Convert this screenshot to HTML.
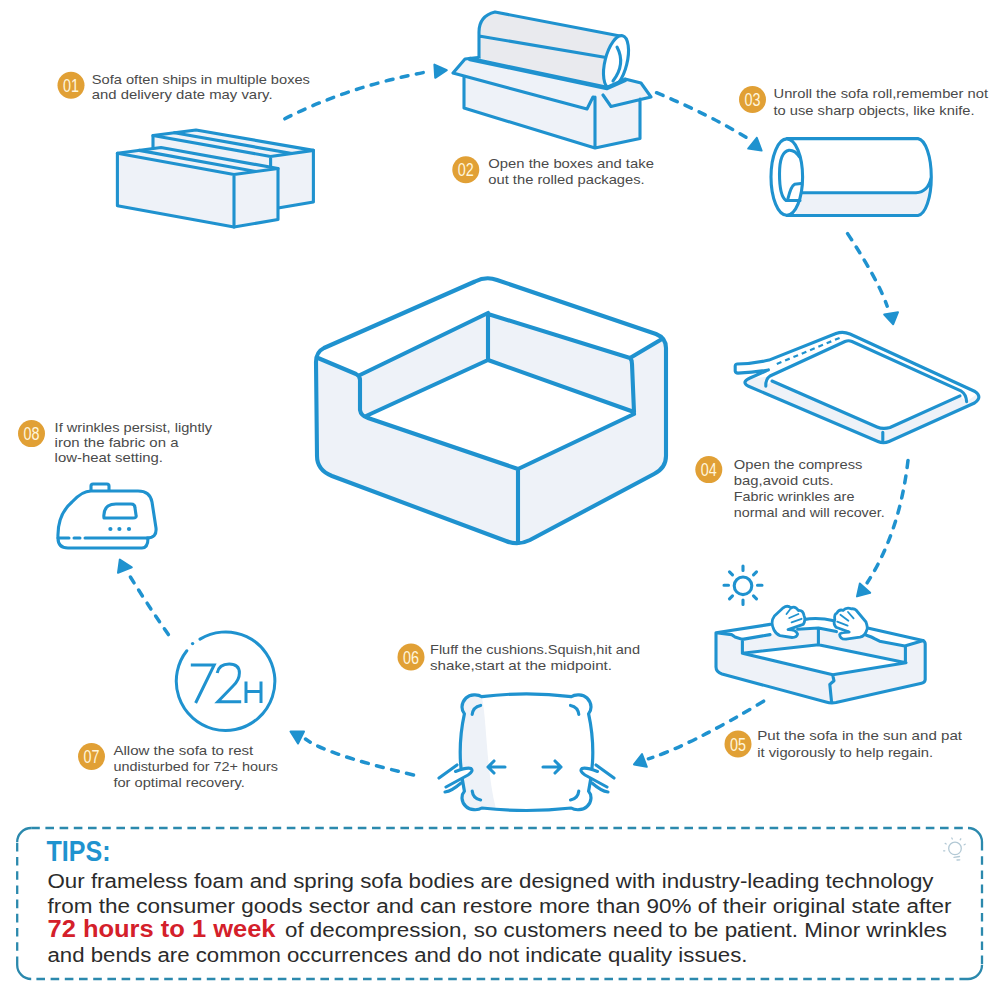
<!DOCTYPE html>
<html><head><meta charset="utf-8">
<style>
html,body{margin:0;padding:0;background:#fff;}
body{width:1000px;height:1000px;overflow:hidden;position:relative;}
svg{position:absolute;left:0;top:0;}
.ln{fill:none;stroke:#1f92cf;stroke-width:3.1;stroke-linejoin:round;stroke-linecap:round;}
.fg{fill:#eef2f8;}
.fr{fill:#e9eaee;}
.fw{fill:#fff;}
.ar{fill:none;stroke:#1f92cf;stroke-width:3.5;stroke-linecap:round;stroke-dasharray:7 8.5;}
.ah{fill:#1f92cf;stroke:#1f92cf;stroke-width:2;stroke-linejoin:round;}
.t{font-family:"Liberation Sans",sans-serif;font-size:13.5px;fill:#4a4a4a;}
.tp{font-family:"Liberation Sans",sans-serif;font-size:19.5px;fill:#2b2b2b;}
.bd{fill:#e1a035;}
.bt{font-family:"Liberation Sans",sans-serif;font-size:18px;fill:#fff6dd;}
</style></head><body>
<svg width="1000" height="1000" viewBox="0 0 1000 1000">
<!-- ===== STEP 01 boxes ===== -->
<g id="s01">
  <path class="fg" d="M153,149 L153,135.5 L196,130 L313.4,150.4 L313.4,202 L278,208 L160,160 Z"/>
  <path class="ln" d="M153,149 L153,135.5 L196,130 L313.4,150.4 L313.4,202 L278,208"/>
  <path class="ln" d="M153,135.5 L270.6,156.5 L313.4,150.4 M270.6,156.5 L270.6,170 M174.5,132.8 L292,153.5"/>
  <path class="fg ln" d="M117.4,153.3 L161,147.5 L278,168.5 L278,219.5 L234,227 L117.4,205.8 Z"/>
  <path class="ln" d="M117.4,153.3 L234,174.5 L278,168.5 M234,174.5 L234,227 M139.2,150.4 L256,171.5"/>
</g>
<!-- ===== STEP 02 box + roll ===== -->
<g id="s02">
  <path class="fr" d="M495,12 L620,36 L607,88 L486,65 Q479,64 479,57 L479,32 Q479,16 495,12 Z"/>
  <path class="ln" d="M495,12 L620,36 M486,65 L607,88 M479,36 L609,58 M495,12 Q479,16 479,32 L479,57 Q479,64 486,65"/>
  <ellipse class="fw ln" cx="616" cy="62" rx="11" ry="27" transform="rotate(14 616 62)"/>
  <path class="ln" d="M617,47 Q626,64 613,81"/>
  <path class="fg" d="M453,73 L465,59 L478,58 L607,88 L625,80 L641,83 L651,97 L611,106.5 L640,99 L640,138.6 L595,148 L464,108 L464,76 Z"/>
  <path class="ln" style="stroke-width:4.5" d="M470,59 L607,88 L625,80"/>
  <path class="ln" d="M453,73 L465,59 L478,57.5 M453,73 L587,109 L593,97 M464,76 L464,108 L595,148 L640,138.6 L640,99 M595,97 L595,148 M603,95 L611,106.5 L651,97 L641,83 L625,79"/>
</g>
<!-- ===== STEP 03 roll ===== -->
<g id="s03">
  <path class="fw" d="M787,138.6 L918,138.6 A14,38.5 0 0 1 918,215.5 L787,215.5 Z"/>
  <path class="fg" d="M802,192.7 L916,192.7 Q928,192 931,178 Q932,205 918,215.5 L795,215.5 Z"/>
  <path class="ln" d="M787,138.6 L918,138.6 A14,38.5 0 0 1 918,215.5 L787,215.5 M802,192.7 L916,192.7 Q928,192 931,178"/>
  <ellipse class="fw ln" cx="786.8" cy="177.1" rx="15.8" ry="38.2"/>
  <path class="ln" d="M799.5,157 Q795,150 789,150.3 Q779.5,152 779.5,174 Q779.5,196 786,200.5 L800,200.5 M788,198.5 Q791,186 794.5,184.3 L801,183.5"/>
</g>
<!-- ===== STEP 04 bag ===== -->
<g id="s04">
  <path class="fw" d="M768.4,369.9 L750,378 Q741,382 748,386 L878,441.5 Q883.4,444 889,441.5 L974.5,403 Q983,397 975,391.5 L850,334 Q843,331 836,333.5 L769,360.1 Q752,364 737,364 Q735,364 735.2,367 L735.2,371 Q735.5,373.1 738,373.1 Q755,372.5 768.4,369.9 Z"/>
  <path class="fg" d="M766,377 L750,378 Q741,382 748,386 L878,441.5 Q883.4,444 889,441.5 L974.5,403 Q980,399 977,394 L966.6,401.6 L960,395.8 L890,427.5 Q883,429.5 877,427 L772,381 Z"/>
  <path class="fw" d="M766,386 Q765.5,379 770,376 L845,341.5 Q848.5,340 852,341.5 L961.4,391.2 Q966,394 966.6,401.6 L960,395.8 L890,427.5 Q883,429.5 877,427 L772,381 Z"/>
  <path class="ln" d="M768.4,369.9 L750,378 Q741,382 748,386 L878,441.5 Q883.4,444 889,441.5 L974.5,403 Q983,397 975,391.5 L850,334 Q843,331 836,333.5 L769,360.1 Q752,364 737,364 Q735,364 735.2,367 L735.2,371 Q735.5,373.1 738,373.1 Q755,372.5 768.4,369.9"/>
  <path class="ln" d="M765.8,386.1 Q765.5,379 770,376 L845,341.5 Q848.5,340 852,341.5 L961.4,391.2 Q966,394 966.6,401.6 M772,381 L877,427 Q883,429.5 890,427.5 L960,395.8 M882.8,432.2 L882.8,440.6"/>
  <path class="ln" style="stroke-width:2.2;stroke-linecap:butt" stroke-dasharray="5 4" d="M776.8,364 L841.8,337"/>
</g>
<!-- ===== CENTRAL sofa ===== -->
<g id="sofa">
  <path class="fg" d="M316,362 Q316,352 324,348 L475,281.5 Q486,276 497,280 L656,334 Q666,338 666,348 L666,456 Q666,468 654,474 L530,540 Q518,546 506,541 L332,476 Q317,470 317,456 Z"/>
  <path class="fw" d="M318,358 L322,349 L475,281.5 Q486,276 497,280 L656,334 L661,339 L630,358 L488,314 L360,375 Z"/>
  <path class="fw" d="M366,416 L488,360 L634,413 L518,469 Z"/>
  <path class="ln" style="stroke-width:4.1" d="M316,362 Q316,352 324,348 L475,281.5 Q486,276 497,280 L656,334 Q666,338 666,348 L666,456 Q666,468 654,474 L530,540 Q518,546 506,541 L332,476 Q317,470 317,456 Z"/>
  <path class="ln" style="stroke-width:4.1" d="M318,358 L356,374 Q360,376 360,380 L360,410 Q361,416 368,418 L518,469 L634,414 M360,375 L488,313 L488,360 M488,314 L630,358 L662,339 M630,358 Q632,360 632,364 L634,412 M366,416 L488,360 L634,412 M518,469 L518,543"/>
</g>

<!-- ===== STEP 05 sofa in sun ===== -->
<g id="s05">
  <circle class="ln" cx="743" cy="585.8" r="8.8"/>
  <path class="ln" d="M743,566 L743,570.5 M743,600 L743,604.5 M724,585.3 L728.5,585.3 M757.5,585.3 L762,585.3 M729.5,571.8 L732.5,574.8 M753.5,595.8 L756.5,598.8 M756.5,571.8 L753.5,574.8 M732.5,595.8 L729.5,598.8"/>
  <path class="fg" d="M716,632.8 L770,624.4 L803.6,619.6 Q818,617 834,620.8 L867.6,628 L922.8,640.6 Q925.2,641.5 925.2,644 L925.2,679.6 Q925,682.5 921.6,683.2 L836,702.5 Q831,703.5 826,702 L722,674 Q716,672 716,667 Z"/>
  <path class="fw" d="M742.4,653.2 L818.4,644.8 L906,662.8 L832.8,674.8 Z"/>
  <path class="fw" d="M716,632.8 L770,624.4 L803.6,619.6 Q818,617 834,620.8 L867.6,628 L922.8,640.6 L904.8,646 L879.6,641.2 L866.4,635.2 L836.4,631.6 L818.4,628 L797.6,629.2 L770,634.6 L742.4,639.4 L735,637 L731.6,634.6 Z"/>
  <path class="ln" d="M716,632.8 L770,624.4 M867.6,628 L922.8,640.6 Q925.2,641.5 925.2,644 L925.2,679.6 Q925,682.5 921.6,683.2 L836,702.5 Q831,703.5 826,702 L722,674 Q716,672 716,667 L716,632.8 L731.6,634.6 Q734,636 735,637 L742.4,639.4 L742.4,653.2 M742.4,639.4 L770,634.6 M797.6,629.2 L818.4,628 L836.4,631.6 M866.4,635.2 Q872,637 875,638.8 L879.6,641.2 L904.8,646 L923.4,640.6 M818.4,628 L818.4,643.6 M905.4,646 L905.4,661.6 M742.4,653.2 L818.4,644.8 L906,662.8 L832.8,674.8 Z M832.8,675.4 L834,680.8 L829.8,684.4 L831.6,702.4 M803.6,619.6 Q818,617 834,620.8"/>
  <path class="fw ln" style="stroke-width:2.8" d="M774,630 Q770,622 774.4,616 L783.2,607.8 Q787.5,604.5 791,608 Q795,605.5 798.4,610.5 Q803,610 804,615.5 Q806,620 803.2,624.4 L788,629.6 Q796,629.5 797.6,634 Q797,637.5 792,637.5 L780,635.6 Q776,634 774,630 Z"/>
  <path class="ln" style="stroke-width:1.8" d="M786.5,614 L790,609.5 M789.2,618 L798.4,614 M791.6,622.4 L801.6,618.8"/>
  <path class="fw ln" style="stroke-width:2.8" d="M849.2,632 L836,627.2 Q833,624 834.8,620 Q834,614 836.8,613.2 Q839,609 843.2,610.4 Q846,607 851.6,608.8 Q854.5,608.5 856,610 L866,622 Q868,628 866.8,630 Q865,636 860,637.2 L846,639.2 Q840,639.5 839.6,634.5 Q840,632.5 849.2,632 Z"/>
  <path class="ln" style="stroke-width:1.8" d="M840.4,614.8 L848.4,620.8 M848,612 L853.6,618.4 M837.2,621.6 L847.6,625.6"/>
</g>
<!-- ===== STEP 06 pillow ===== -->
<g id="s06">
  <path class="fw" d="M481.8,696.7 Q526.5,691 571.2,696.7 C575,694 583,694 587,698 C592,703 592,710 588.6,713.8 Q597,752 588.6,791.2 C592,795 592,802 587,806.5 C583,810.5 575,810.5 571.2,808 Q526.5,813 481.8,808 C478,810.5 470,810.5 466,806.5 C461,802 461,795 464.4,791.2 Q456,752 464.4,713.8 C461,710 461,703 466,698 C470,694 478,694 481.8,696.7 Z"/>
  <path class="fg" d="M481.8,696.7 C487,720 486,770 496,809 L481.8,808 C478,810.5 470,810.5 466,806.5 C461,802 461,795 464.4,791.2 Q456,752 464.4,713.8 C461,710 461,703 466,698 C470,694 478,694 481.8,696.7 Z"/>
  <path class="ln" style="stroke-width:3.2" d="M481.8,696.7 Q526.5,691 571.2,696.7 C575,694 583,694 587,698 C592,703 592,710 588.6,713.8 Q597,752 588.6,791.2 C592,795 592,802 587,806.5 C583,810.5 575,810.5 571.2,808 Q526.5,813 481.8,808 C478,810.5 470,810.5 466,806.5 C461,802 461,795 464.4,791.2 Q456,752 464.4,713.8 C461,710 461,703 466,698 C470,694 478,694 481.8,696.7 Z"/>
  <path class="ln" d="M480.6,705.4 Q473,707 472.2,714.4 M570.5,705.4 Q578,707 578.8,714.4 M472.2,791 Q473,798.5 480.6,800 M578.8,791 Q578,798.5 570.5,800"/>
  <path class="ln" d="M505,767 L488,767 M494,761 L488,767 L494,773 M543,767 L561,767 M555,761 L561,767 L555,773"/>
  <path class="ln" d="M439,778 L457,765 M445,792 Q452,791 461,783 M614,778 L596,765 M608,792 Q601,791 592,783"/>
  <path class="fw ln" d="M455.5,771.5 Q467,767 471,768.5 Q474,771 468,775 L446,787 M597.5,771.5 Q586,767 582,768.5 Q579,771 585,775 L607,787"/>
</g>
<!-- ===== STEP 07 clock ===== -->
<g id="s07">
  <path class="ln" style="stroke-width:3" d="M200.0,639.1 A49.3,49.3 0 1 1 186.8,650.8"/>
  <circle cx="192.6" cy="643.6" r="1.7" fill="#1f92cf"/>
  <path class="ln" style="stroke-width:3;stroke-linecap:butt;stroke-linejoin:miter" d="M190.8,665 L214.2,665 L195.6,703 M217.2,673 Q219,664 229.2,664 Q239.4,664 239.4,673 Q239.4,680 233,686 L217.8,701.8 L241.2,701.8 M246,681.4 L246,703 M261,681.4 L261,703 M246,691.6 L261,691.6"/>
</g>
<!-- ===== STEP 08 iron ===== -->
<g id="s08">
  <path class="fw ln" d="M91,491 L91,486 Q91,484 93,484 L107,484 Q109,484 109,486 L109,491"/>
  <path class="fw" d="M91,491 L138,491 Q150,491 152,502 L156,528 Q157,538 147,538 L58,538 Q57,515 72,502 Q82,491 91,491 Z"/>
  <path class="ln" d="M58,538 Q57,515 72,502 Q82,491 91,491 L138,491 Q150,491 152,502 L156,528 Q157,538 147,538"/>
  <path class="ln" d="M58,538 Q58,548 68,548 L142,548 Q148,548 148,538"/>
  <path class="ln" d="M104,518 Q103,510 108,506 Q111,504 116,504 L131,504 Q135,504 135,508 L136,515 Q137,518 133,518 Z"/>
  <path class="ln" style="stroke-width:3" d="M59,538 L69,538 M74,538 L80,538 M85,538 L147,538"/>
  <circle cx="110.4" cy="529" r="2.1" fill="#1f92cf"/><circle cx="119.4" cy="529" r="2.1" fill="#1f92cf"/><circle cx="129" cy="529" r="2.1" fill="#1f92cf"/>
</g>
<!-- ===== ARROWS ===== -->
<g id="arrows">
  <path class="ar" d="M284.8,118.8 Q349.3,85.8 430,71.4"/>
  <path class="ah" d="M446.8,70.2 L434.4,64.6 L435.2,77.8 Z"/>
  <path class="ar" d="M656.5,92.7 Q709.1,114.6 748,138.5"/>
  <path class="ah" d="M756.8,137.8 L748.2,148.6 L761.6,150.6 Z"/>
  <path class="ar" d="M847.6,233.6 Q878.3,280.4 887.2,306.2"/>
  <path class="ah" d="M893.2,324.2 L884.2,314.6 L898,312.2 Z"/>
  <path class="ar" d="M908,460.4 Q899.8,532.1 867.2,582.8"/>
  <path class="ah" d="M857,596.4 L859.8,583.6 L870.2,592.8 Z"/>
  <path class="ar" d="M763.6,701.2 Q690.6,745.4 648.4,758.8"/>
  <path class="ah" d="M634,764.4 L642,754 L646.8,766.8 Z"/>
  <path class="ar" d="M413.5,775 Q325.4,754.2 305.5,739"/>
  <path class="ah" d="M290.5,731.5 L304,731.5 L298,743.5 Z"/>
  <path class="ar" d="M168.4,634.6 Q147,604 128.2,573.4"/>
  <path class="ah" d="M119.8,559.6 L118,572.8 L131.8,567.4 Z"/>
</g>
<!-- ===== TIPS box ===== -->
<g fill="none" stroke="#2b89ad" stroke-width="2.3">
  <path d="M17.2,842 A14,14 0 0 1 31.2,828 M968,828 A14,14 0 0 1 982,842 M982,965 A14,14 0 0 1 968,979 M31.2,979 A14,14 0 0 1 17.2,965"/>
  <path stroke-dasharray="8.6 5.6" d="M31.2,828 L968,828 M982,842 L982,965 M968,979 L31.2,979 M17.2,965 L17.2,842"/>
</g>
<g id="bulb" fill="none" stroke="#b3c9d5" stroke-width="1.3" stroke-linecap="round">
  <circle cx="955" cy="848.4" r="6.3"/>
  <path d="M954,857.3 L959.5,856.5 M957,860 L959.8,859.8 M951.8,838 L952.3,839 M960.8,838.8 L960.2,839.8 M945.2,843.4 L946.2,844 M965.2,844.2 L964.2,844.8 M943.6,850.8 L944.8,850.8"/>
</g>
<!-- ===== BADGES & LABELS ===== -->
<g id="badges">
<circle class="bd" cx="71" cy="85.25" r="13.5"/><text class="bt" x="71" y="91.75" text-anchor="middle" textLength="16" lengthAdjust="spacingAndGlyphs">01</text>
<circle class="bd" cx="465.8" cy="169.8" r="13.5"/><text class="bt" x="465.8" y="176.30" text-anchor="middle" textLength="16" lengthAdjust="spacingAndGlyphs">02</text>
<circle class="bd" cx="752.5" cy="99.5" r="13.5"/><text class="bt" x="752.5" y="106.00" text-anchor="middle" textLength="16" lengthAdjust="spacingAndGlyphs">03</text>
<circle class="bd" cx="708.8" cy="469.6" r="13.5"/><text class="bt" x="708.8" y="476.10" text-anchor="middle" textLength="16" lengthAdjust="spacingAndGlyphs">04</text>
<circle class="bd" cx="738" cy="744" r="13.5"/><text class="bt" x="738" y="750.50" text-anchor="middle" textLength="16" lengthAdjust="spacingAndGlyphs">05</text>
<circle class="bd" cx="411" cy="657" r="13.5"/><text class="bt" x="411" y="663.50" text-anchor="middle" textLength="16" lengthAdjust="spacingAndGlyphs">06</text>
<circle class="bd" cx="91.5" cy="756.5" r="13.5"/><text class="bt" x="91.5" y="763.00" text-anchor="middle" textLength="16" lengthAdjust="spacingAndGlyphs">07</text>
<circle class="bd" cx="31.5" cy="433.6" r="13.5"/><text class="bt" x="31.5" y="440.10" text-anchor="middle" textLength="16" lengthAdjust="spacingAndGlyphs">08</text>
</g><g id="labels">
<text class="t" x="91.75" y="83.5" textLength="218.2" lengthAdjust="spacingAndGlyphs">Sofa often ships in multiple boxes</text>
<text class="t" x="91.75" y="98.6" textLength="180.8" lengthAdjust="spacingAndGlyphs">and delivery date may vary.</text>
<text class="t" x="488.3" y="168" textLength="165.6" lengthAdjust="spacingAndGlyphs">Open the boxes and take</text>
<text class="t" x="488.3" y="184.1" textLength="156.4" lengthAdjust="spacingAndGlyphs">out the rolled packages.</text>
<text class="t" x="773.5" y="98" textLength="214.5" lengthAdjust="spacingAndGlyphs">Unroll the sofa roll,remember not</text>
<text class="t" x="773.5" y="114.5" textLength="201.0" lengthAdjust="spacingAndGlyphs">to use sharp objects, like knife.</text>
<text class="t" x="733.8" y="469" textLength="128.6" lengthAdjust="spacingAndGlyphs">Open the compress</text>
<text class="t" x="733.8" y="485" textLength="99.8" lengthAdjust="spacingAndGlyphs">bag,avoid cuts.</text>
<text class="t" x="733.8" y="501" textLength="120.6" lengthAdjust="spacingAndGlyphs">Fabric wrinkles are</text>
<text class="t" x="733.8" y="517" textLength="151.0" lengthAdjust="spacingAndGlyphs">normal and will recover.</text>
<text class="t" x="757.2" y="740" textLength="204.8" lengthAdjust="spacingAndGlyphs">Put the sofa in the sun and pat</text>
<text class="t" x="757.2" y="756.6" textLength="176.0" lengthAdjust="spacingAndGlyphs">it vigorously to help regain.</text>
<text class="t" x="430" y="654" textLength="210.0" lengthAdjust="spacingAndGlyphs">Fluff the cushions.Squish,hit and</text>
<text class="t" x="430" y="669.6" textLength="182.0" lengthAdjust="spacingAndGlyphs">shake,start at the midpoint.</text>
<text class="t" x="113.4" y="755.2" textLength="139.9" lengthAdjust="spacingAndGlyphs">Allow the sofa to rest</text>
<text class="t" x="113.4" y="771.4" textLength="164.6" lengthAdjust="spacingAndGlyphs">undisturbed for 72+ hours</text>
<text class="t" x="113.4" y="787.2" textLength="131.5" lengthAdjust="spacingAndGlyphs">for optimal recovery.</text>
<text class="t" x="54.6" y="431.5" textLength="157.4" lengthAdjust="spacingAndGlyphs">If wrinkles persist, lightly</text>
<text class="t" x="54.6" y="447" textLength="123.9" lengthAdjust="spacingAndGlyphs">iron the fabric on a</text>
<text class="t" x="54.6" y="462" textLength="108.4" lengthAdjust="spacingAndGlyphs">low-heat setting.</text>
</g>
<g id="tips">
<text x="46.5" y="860.8" font-family="Liberation Sans" font-weight="bold" font-size="30" fill="#1f93cf" textLength="64" lengthAdjust="spacingAndGlyphs">TIPS:</text>
<text class="tp" x="47.5" y="888" textLength="886" lengthAdjust="spacingAndGlyphs">Our frameless foam and spring sofa bodies are designed with industry-leading technology</text>
<text class="tp" x="47.5" y="913" textLength="904" lengthAdjust="spacingAndGlyphs">from the consumer goods sector and can restore more than 90% of their original state after</text>
<text x="47.5" y="937.3" font-family="Liberation Sans" font-weight="bold" font-size="23" fill="#d4202a" textLength="228" lengthAdjust="spacingAndGlyphs">72 hours to 1 week</text>
<text class="tp" x="285" y="937.3" textLength="662" lengthAdjust="spacingAndGlyphs">of decompression, so customers need to be patient. Minor wrinkles</text>
<text class="tp" x="47.5" y="962" textLength="700" lengthAdjust="spacingAndGlyphs">and bends are common occurrences and do not indicate quality issues.</text>
</g>
</svg>
</body></html>
